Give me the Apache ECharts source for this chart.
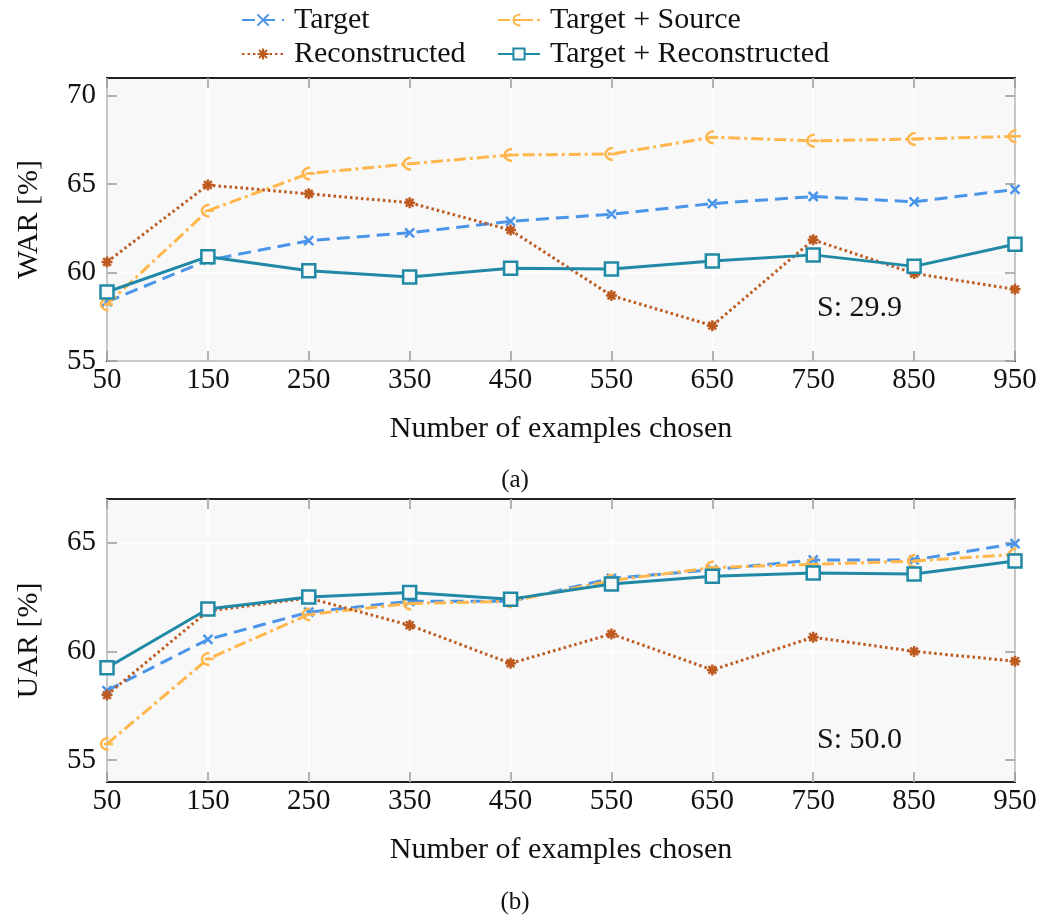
<!DOCTYPE html>
<html>
<head>
<meta charset="utf-8">
<script src="https://cdn.jsdelivr.net/npm/echarts@6/dist/echarts.min.js"></script>
<style>
html,body{margin:0;padding:0;background:#fff;}
#chart{width:1042px;height:920px;}
</style>
</head>
<body>
<div id="chart"></div>
<script>
const categories = ['50','150','250','350','450','550','650','750','850','950'];
const warTarget       = [58.35, 60.7, 61.8, 62.25, 62.9, 63.3, 63.9, 64.3, 64.0, 64.7];
const warTargetSource = [58.2, 63.5, 65.6, 66.15, 66.65, 66.7, 67.65, 67.45, 67.55, 67.7];
const warRecon        = [60.6, 64.95, 64.45, 63.95, 62.4, 58.7, 57.0, 61.85, 59.95, 59.05];
const warTargetRecon  = [58.9, 60.9, 60.1, 59.75, 60.25, 60.2, 60.65, 61.0, 60.35, 61.6];
const uarTarget       = [58.2, 60.55, 61.8, 62.3, 62.3, 63.35, 63.75, 64.2, 64.2, 64.95];
const uarTargetSource = [55.75, 59.65, 61.7, 62.2, 62.3, 63.25, 63.85, 64.0, 64.15, 64.45];
const uarRecon        = [58.0, 61.85, 62.45, 61.2, 59.45, 60.8, 59.15, 60.65, 60.0, 59.55];
const uarTargetRecon  = [59.25, 61.95, 62.5, 62.7, 62.4, 63.1, 63.45, 63.6, 63.55, 64.15];
const warTicks = [55, 60, 65, 70];
const uarTicks = [55, 60, 65];
const seriesNames = ['Target', 'Target + Source', 'Reconstructed', 'Target + Reconstructed'];
const annotations = ['S: 29.9', 'S: 50.0'];
const captions = ['(a)', '(b)'];

const FONT = 'Liberation Serif';
const C_BLUE = '#4a95ea', C_ORANGE = '#ffb74d', C_BROWN = '#bd5a20', C_TEAL = '#2089a6';

const styles = [
  { color: C_BLUE, type: [13, 7], symbol: 'path://M0,0L10,10M10,0L0,10', size: 9, fill: C_BLUE },
  { color: C_ORANGE, type: [12, 4, 3, 4], symbol: 'path://M10,0A10,10 0 0 0 10,20M4,10L16,10', size: 12, fill: 'rgba(0,0,0,0)' },
  { color: C_BROWN, type: [2.5, 3], symbol: 'path://M0,5L10,5M5,0L5,10M1.5,1.5L8.5,8.5M8.5,1.5L1.5,8.5', size: 11, fill: C_BROWN },
  { color: C_TEAL, type: 'solid', symbol: 'rect', size: 13, fill: '#f8f8f8' }
];

function mkSeries(idx, gridIdx, data) {
  const s = styles[idx];
  return {
    name: seriesNames[idx], type: 'line', xAxisIndex: gridIdx * 2, yAxisIndex: gridIdx * 2,
    data: data, symbol: s.symbol, symbolSize: s.size, showSymbol: true,
    lineStyle: { color: s.color, width: 3, type: s.type },
    itemStyle: { color: s.fill, borderColor: s.color, borderWidth: 2.5 },
    emphasis: { disabled: true }, animation: false, z: 3 + idx
  };
}

const grids = [
  { left: 107, top: 78, width: 908, height: 283, show: true, backgroundColor: '#f8f8f8', borderColor: '#222', borderWidth: 2 },
  { left: 107, top: 499, width: 908, height: 283, show: true, backgroundColor: '#f8f8f8', borderColor: '#222', borderWidth: 2 }
];

function xAxes(gi) {
  return [
    { type: 'category', gridIndex: gi, data: categories, boundaryGap: false, position: 'bottom',
      axisLine: { show: false }, axisTick: { show: true, inside: true, length: 10, lineStyle: { color: '#999', width: 1.5 } },
      axisLabel: { color: '#111', fontFamily: FONT, fontSize: 29, margin: 5 },
      splitLine: { show: true, lineStyle: { color: '#fff', width: 1.5 } },
      name: 'Number of examples chosen', nameLocation: 'middle', nameGap: 53,
      nameTextStyle: { color: '#111', fontFamily: FONT, fontSize: 30 } },
    { type: 'category', gridIndex: gi, data: categories, boundaryGap: false, position: 'top',
      axisLine: { show: false }, axisTick: { show: true, inside: true, length: 10, lineStyle: { color: '#999', width: 1.5 } },
      axisLabel: { show: false }, splitLine: { show: false } }
  ];
}
function yAxes(gi, min, max, ticks, name) {
  const tickFmt = { show: true, inside: true, length: 10, lineStyle: { color: '#999', width: 1.5 }, customValues: ticks };
  return [
    { type: 'value', gridIndex: gi, min: min, max: max, position: 'left',
      axisLine: { show: false }, axisTick: tickFmt,
      axisLabel: { color: '#111', fontFamily: FONT, fontSize: 29, margin: 11, customValues: ticks },
      splitLine: { show: true, lineStyle: { color: '#fff', width: 1.5 } },
      name: name, nameLocation: 'middle', nameGap: 63, nameRotate: 90,
      nameTextStyle: { color: '#111', fontFamily: FONT, fontSize: 30 } },
    { type: 'value', gridIndex: gi, min: min, max: max, position: 'right',
      axisLine: { show: false }, axisTick: tickFmt,
      axisLabel: { show: false, customValues: ticks }, splitLine: { show: false } }
  ];
}

function legendAt(idx, left, top) {
  return {
    data: [seriesNames[idx]], left: left, top: top, padding: 0, itemWidth: 42, itemHeight: 14, itemGap: 0,
    selectedMode: false,
    textStyle: { color: '#111', fontFamily: FONT, fontSize: 30, lineHeight: 34, padding: [0, 0, 0, 5] }
  };
}

const option = {
  animation: false,
  backgroundColor: '#fff',
  grid: grids,
  xAxis: [...xAxes(0), ...xAxes(1)],
  yAxis: [...yAxes(0, 55, 71, warTicks, 'WAR [%]'), ...yAxes(1, 54, 67, uarTicks, 'UAR [%]')],
  legend: [legendAt(0, 241, 3), legendAt(2, 241, 37), legendAt(1, 497, 3), legendAt(3, 497, 37)],
  series: [
    mkSeries(0, 0, warTarget), mkSeries(1, 0, warTargetSource), mkSeries(2, 0, warRecon), mkSeries(3, 0, warTargetRecon),
    mkSeries(0, 1, uarTarget), mkSeries(1, 1, uarTargetSource), mkSeries(2, 1, uarRecon), mkSeries(3, 1, uarTargetRecon)
  ],
  graphic: [
    { type: 'text', x: 817, y: 308, z: 100, style: { text: annotations[0], fill: '#111', font: '30px "' + FONT + '"', verticalAlign: 'middle' } },
    { type: 'text', x: 817, y: 740, z: 100, style: { text: annotations[1], fill: '#111', font: '30px "' + FONT + '"', verticalAlign: 'middle' } },
    { type: 'text', x: 515, y: 480, z: 100, style: { text: captions[0], fill: '#111', font: '25px "' + FONT + '"', align: 'center', verticalAlign: 'middle' } },
    { type: 'text', x: 515, y: 902, z: 100, style: { text: captions[1], fill: '#111', font: '25px "' + FONT + '"', align: 'center', verticalAlign: 'middle' } }
  ]
};

const chart = echarts.init(document.getElementById('chart'), null, { renderer: 'canvas' });
chart.setOption(option);
</script>
</body>
</html>
